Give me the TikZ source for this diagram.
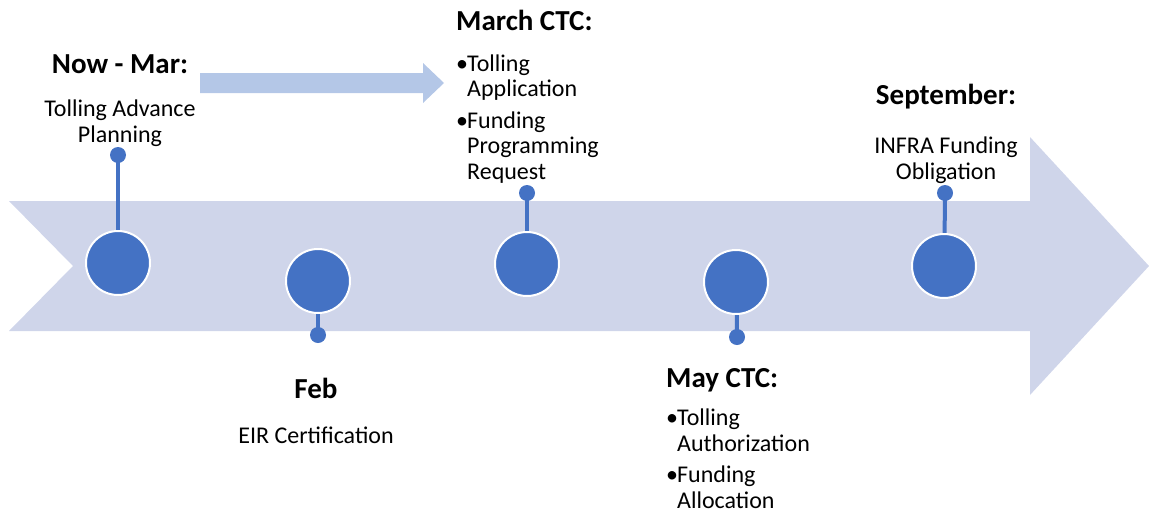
\documentclass[tikz,border=0pt]{standalone}
\usepackage{fontspec}
\setmainfont{Carlito}
\definecolor{band}{HTML}{CFD5EA}
\definecolor{dotblue}{HTML}{4472C4}
\definecolor{lightarrow}{HTML}{B4C7E7}
\newcommand{\bul}{\makebox[11pt][l]{\textbullet}}
\newcommand{\ind}{\hspace*{11pt}}
\begin{document}
\begin{tikzpicture}[x=1pt,y=-1pt,
  milestone/.style={circle, fill=dotblue, draw=white, line width=2pt, minimum size=64pt, inner sep=0pt},
  pin/.style={circle, fill=dotblue, minimum size=16pt, inner sep=0pt},
  stem/.style={draw=dotblue, line width=4pt, shorten >=1pt},
  head/.style={font=\fontsize{29}{30}\selectfont\bfseries, inner sep=0pt},
  body/.style={font=\fontsize{24}{25.5}\selectfont, inner sep=0pt},
]
\useasboundingbox (0,0) rectangle (1149,512);
% big band arrow
\fill[band] (9,201) -- (1030,201) -- (1030,137) -- (1149,266) -- (1030,395) -- (1030,331) -- (9,331) -- (73,266) -- cycle;
% small arrow
\fill[lightarrow] (200,73) -- (423,73) -- (423,63) -- (444,83) -- (423,103) -- (423,93) -- (200,93) -- cycle;

% pins
\node[pin] (d1) at (118,155) {};
\node[pin] (d2) at (318,335) {};
\node[pin] (d3) at (527,193) {};
\node[pin] (d4) at (737,337) {};
\node[pin] (d5) at (945,193) {};
% milestone positions
\coordinate (p1) at (118,263);
\coordinate (p2) at (318,281);
\coordinate (p3) at (527,264);
\coordinate (p4) at (736,282);
\coordinate (p5) at (944,266);
% stems
\draw[stem] (d1.center) -- ([yshift=-33pt]p1);
\draw[stem] (d2.center) -- ([yshift=33pt]p2);
\draw[stem] (d3.center) -- ([yshift=-33pt]p3);
\draw[stem] (d4.center) -- ([yshift=33pt]p4);
\draw[stem] (d5.center) -- ([yshift=-33pt]p5);
% circles
\node[milestone] (c1) at (p1) {};
\node[milestone] (c2) at (p2) {};
\node[milestone] (c3) at (p3) {};
\node[milestone] (c4) at (p4) {};
\node[milestone] (c5) at (p5) {};

% texts (base anchor of multi-line nodes = baseline of last line)
\node[head, anchor=base] (h1) at (120,73) {Now - Mar:};
\node[body, anchor=base, align=center] (t1) at (120,142) {Tolling Advance\\Planning};

\node[head, anchor=base west] (h3) at (456,30) {March CTC:};
\node[body, anchor=base west, align=left] (t3) at (456,179) {\bul Tolling\\\ind Application\\[6pt]\bul Funding\\\ind Programming\\\ind Request};

\node[head, anchor=base] (h2) at (316,398) {Feb};
\node[body, anchor=base] (t2) at (316,443) {EIR Certification};

\node[head, anchor=base west] (h4) at (666,387) {May CTC:};
\node[body, anchor=base west, align=left] (t4) at (666,508) {\bul Tolling\\\ind Authorization\\[6pt]\bul Funding\\\ind Allocation};

\node[head, anchor=base] (h5) at (946,104) {September:};
\node[body, anchor=base, align=center] (t5) at (946,179) {INFRA Funding\\Obligation};
\end{tikzpicture}
\end{document}
